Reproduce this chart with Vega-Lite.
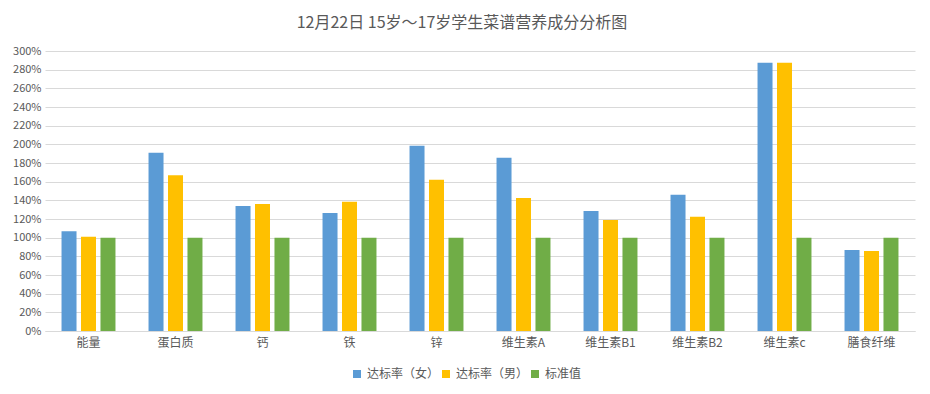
{
  "$schema": "https://vega.github.io/schema/vega-lite/v6.json",
  "width": 870,
  "height": 280,
  "autosize": "none",
  "padding": {"left": 45, "top": 51, "right": 15, "bottom": 63},
  "background": "white",
  "title": {
    "text": "12月22日 15岁～17岁学生菜谱营养成分分析图",
    "font": "Noto Sans CJK SC",
    "fontSize": 16,
    "fontWeight": "normal",
    "color": "#595959",
    "offset": 14,
    "dx": -18
  },
  "data": {
    "values": [
      {"category": "能量", "series": "达标率（女）", "value": 1.07},
      {"category": "能量", "series": "达标率（男）", "value": 1.01},
      {"category": "能量", "series": "标准值", "value": 1.0},
      {"category": "蛋白质", "series": "达标率（女）", "value": 1.91},
      {"category": "蛋白质", "series": "达标率（男）", "value": 1.67},
      {"category": "蛋白质", "series": "标准值", "value": 1.0},
      {"category": "钙", "series": "达标率（女）", "value": 1.34},
      {"category": "钙", "series": "达标率（男）", "value": 1.36},
      {"category": "钙", "series": "标准值", "value": 1.0},
      {"category": "铁", "series": "达标率（女）", "value": 1.265},
      {"category": "铁", "series": "达标率（男）", "value": 1.385},
      {"category": "铁", "series": "标准值", "value": 1.0},
      {"category": "锌", "series": "达标率（女）", "value": 1.985},
      {"category": "锌", "series": "达标率（男）", "value": 1.62},
      {"category": "锌", "series": "标准值", "value": 1.0},
      {"category": "维生素A", "series": "达标率（女）", "value": 1.855},
      {"category": "维生素A", "series": "达标率（男）", "value": 1.425},
      {"category": "维生素A", "series": "标准值", "value": 1.0},
      {"category": "维生素B1", "series": "达标率（女）", "value": 1.287},
      {"category": "维生素B1", "series": "达标率（男）", "value": 1.19},
      {"category": "维生素B1", "series": "标准值", "value": 1.0},
      {"category": "维生素B2", "series": "达标率（女）", "value": 1.46},
      {"category": "维生素B2", "series": "达标率（男）", "value": 1.223},
      {"category": "维生素B2", "series": "标准值", "value": 1.0},
      {"category": "维生素c", "series": "达标率（女）", "value": 2.875},
      {"category": "维生素c", "series": "达标率（男）", "value": 2.875},
      {"category": "维生素c", "series": "标准值", "value": 1.0},
      {"category": "膳食纤维", "series": "达标率（女）", "value": 0.869},
      {"category": "膳食纤维", "series": "达标率（男）", "value": 0.858},
      {"category": "膳食纤维", "series": "标准值", "value": 1.0}
    ]
  },
  "mark": {"type": "bar"},
  "encoding": {
    "x": {
      "field": "category",
      "type": "nominal",
      "sort": null,
      "title": null,
      "scale": {"paddingInner": 0.38, "paddingOuter": 0.19},
      "axis": {
        "labelAngle": 0,
        "labelFont": "Noto Sans CJK SC",
        "labelFontSize": 12,
        "labelColor": "#595959",
        "labelPadding": 6,
        "ticks": false,
        "domainColor": "#d9d9d9",
        "grid": false
      }
    },
    "xOffset": {
      "field": "series",
      "type": "nominal",
      "sort": ["达标率（女）", "达标率（男）", "标准值"],
      "scale": {"paddingInner": 0.23}
    },
    "y": {
      "field": "value",
      "type": "quantitative",
      "title": null,
      "scale": {"domain": [0, 3], "nice": false},
      "axis": {
        "values": [0, 0.2, 0.4, 0.6, 0.8, 1.0, 1.2, 1.4, 1.6, 1.8, 2.0, 2.2, 2.4, 2.6, 2.8, 3.0],
        "format": ".0%",
        "labelFont": "Noto Sans CJK SC",
        "labelFontSize": 11,
        "labelColor": "#595959",
        "labelPadding": 4,
        "ticks": false,
        "domain": false,
        "gridColor": "#d9d9d9",
        "gridWidth": 1
      }
    },
    "color": {
      "field": "series",
      "type": "nominal",
      "sort": ["达标率（女）", "达标率（男）", "标准值"],
      "scale": {
        "domain": ["达标率（女）", "达标率（男）", "标准值"],
        "range": ["#5b9bd5", "#ffc000", "#70ad47"]
      },
      "legend": {
        "title": null,
        "orient": "none",
        "legendX": 306,
        "legendY": 317,
        "direction": "horizontal",
        "symbolType": "square",
        "symbolSize": 64,
        "symbolStrokeWidth": 0,
        "labelFont": "Noto Sans CJK SC",
        "labelFontSize": 12,
        "labelColor": "#595959",
        "columnPadding": 0,
        "labelOffset": 4
      }
    }
  },
  "config": {
    "view": {"stroke": null}
  }
}
